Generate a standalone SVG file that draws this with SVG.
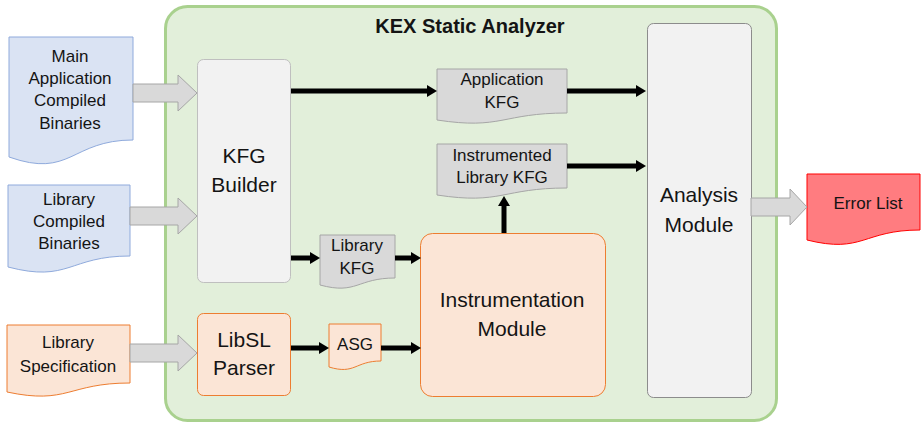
<svg xmlns="http://www.w3.org/2000/svg" width="921" height="423" viewBox="0 0 921 423">
<style>
text{font-family:"Liberation Sans",Arial,sans-serif;fill:#141414;text-anchor:middle}
.s{font-size:17px}
.b{font-size:21px}
.t{font-size:20px;font-weight:bold}
.blue{fill:#dae3f3;stroke:#8faadc;stroke-width:1}
.org{fill:#fbe5d6;stroke:#ed7d31;stroke-width:1}
.gdoc{fill:#d9d9d9;stroke:#a6a6a6;stroke-width:1}
.red{fill:#ff7c80;stroke:#ff0000;stroke-width:1}
.gbox{fill:#f2f2f2;stroke:#bfbfbf;stroke-width:1}
.bk{stroke:#000;stroke-width:5;fill:none;marker-end:url(#ah)}
.blk{fill:#d9d9d9;stroke:#a6a6a6;stroke-width:1}
</style>
<defs>
<marker id="ah" viewBox="0 0 10 12" markerWidth="10" markerHeight="12" refX="2" refY="6" markerUnits="userSpaceOnUse" orient="auto">
<path d="M0,0 L10,6 L0,12 Z" fill="#000"/>
</marker>
</defs>
<g id="kex">
<rect x="165.5" y="6.5" width="611" height="414" rx="22" fill="#e2efda" stroke="#a9d18e" stroke-width="3"/>
<text class="t" x="470" y="33">KEX Static Analyzer</text>
</g>
<g id="main-app">
<path class="blue" d="M9,37 H133 V140 C71,140 71,179 9,157 Z"/>
<text class="s" x="70" y="62">Main</text>
<text class="s" x="70" y="84">Application</text>
<text class="s" x="70" y="106">Compiled</text>
<text class="s" x="70" y="129">Binaries</text>
</g>
<g id="lib-bin">
<path class="blue" d="M8,185 H130 V256 C69,256 69,283 8,267 Z"/>
<text class="s" x="69" y="205">Library</text>
<text class="s" x="69" y="227">Compiled</text>
<text class="s" x="69" y="249">Binaries</text>
</g>
<g id="lib-spec">
<path class="org" d="M7,325 H130 V383 C68,383 68,405 7,392 Z"/>
<text class="s" x="68" y="348">Library</text>
<text class="s" x="68" y="372">Specification</text>
</g>
<g id="kfg-builder">
<rect class="gbox" x="197.5" y="59.5" width="93" height="223" rx="6"/>
<text class="b" x="244" y="163">KFG</text>
<text class="b" x="244" y="192">Builder</text>
</g>
<g id="libsl">
<rect class="org" x="197.5" y="313.5" width="93" height="82" rx="6"/>
<text class="b" x="244" y="347">LibSL</text>
<text class="b" x="244" y="375">Parser</text>
</g>
<g id="app-kfg">
<path class="gdoc" d="M437,69 H567 V113 C502,113 502,130 437,120 Z"/>
<text class="s" x="502" y="85">Application</text>
<text class="s" x="502" y="108">KFG</text>
</g>
<g id="instr-kfg">
<path class="gdoc" d="M437,144 H567 V188 C502,188 502,205 437,195 Z"/>
<text class="s" x="502" y="161">Instrumented</text>
<text class="s" x="502" y="183">Library KFG</text>
</g>
<g id="lib-kfg">
<path class="gdoc" d="M320,235 H395 V278 C357,278 357,295 320,285 Z"/>
<text class="s" x="357" y="251">Library</text>
<text class="s" x="357" y="274">KFG</text>
</g>
<g id="asg">
<path class="org" d="M329,324 H381 V361 C355,361 355,375 329,367 Z"/>
<text class="s" x="355" y="350">ASG</text>
</g>
<g id="instr-mod">
<rect class="org" x="420.5" y="233.5" width="185" height="163" rx="12"/>
<text class="b" x="512" y="307">Instrumentation</text>
<text class="b" x="512" y="336">Module</text>
</g>
<g id="analysis">
<rect x="647.5" y="23.5" width="104" height="374" rx="6" fill="#f2f2f2" stroke="#8c8c8c" stroke-width="1"/>
<text class="b" x="699" y="202">Analysis</text>
<text class="b" x="699" y="232">Module</text>
</g>
<g id="error-list">
<path class="red" d="M807,174 H920 V230 C863,230 863,254 807,240 Z"/>
<text class="s" x="868" y="209">Error List</text>
</g>
<g id="connectors">
<polygon class="blk" points="133,84 178,84 178,75 197,93 178,111 178,102 133,102"/>
<polygon class="blk" points="130,207 178,207 178,198 197,216 178,234 178,225 130,225"/>
<polygon class="blk" points="130,344 178,344 178,335 197,353 178,371 178,362 130,362"/>
<polygon class="blk" points="751,198 790,198 790,189 807,207 790,225 790,216 751,216"/>
<line class="bk" x1="291" y1="91" x2="429" y2="91"/>
<line class="bk" x1="567" y1="91" x2="638" y2="91"/>
<line class="bk" x1="567" y1="166" x2="638" y2="166"/>
<line class="bk" x1="291" y1="258" x2="312" y2="258"/>
<line class="bk" x1="395" y1="258" x2="413" y2="258"/>
<line class="bk" x1="291" y1="348" x2="321" y2="348"/>
<line class="bk" x1="381" y1="348" x2="413" y2="348"/>
<line class="bk" x1="504" y1="233" x2="504" y2="204"/>
</g>
</svg>
